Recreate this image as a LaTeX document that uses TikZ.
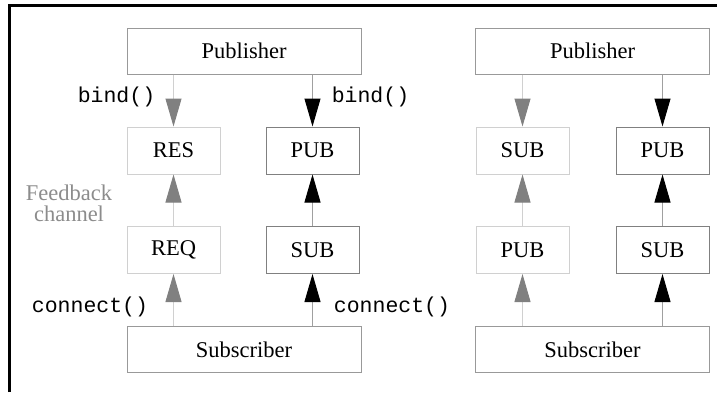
\documentclass[tikz,border=0pt]{standalone}
\usepackage{fontspec}
\setmainfont{Liberation Serif}
\setmonofont{Liberation Mono}
\usetikzlibrary{arrows.meta}
\definecolor{boxlight}{HTML}{D0D0D0}
\definecolor{boxdark}{HTML}{808080}
\definecolor{boxmid}{HTML}{999999}
\definecolor{linelight}{HTML}{D0D0D0}
\definecolor{linedark}{HTML}{A0A0A0}
\definecolor{tipgray}{HTML}{808080}
\definecolor{labelgray}{HTML}{8C8C8C}
\tikzset{
  box/.style={draw, rectangle, inner sep=0pt, line width=1pt, font=\fontsize{22.5}{26}\selectfont},
  wide/.style={box, draw=boxmid, minimum width=234pt, minimum height=46pt},
  lightbox/.style={box, draw=boxlight, minimum width=93pt, minimum height=47pt},
  darkbox/.style={box, draw=boxdark, minimum width=93pt, minimum height=47pt},
  lightarrow/.style={draw=linelight, line width=1pt, -{Triangle[width=16pt,length=28pt,color=tipgray]}},
  darkarrow/.style={draw=linedark, line width=1pt, -{Triangle[width=16pt,length=28pt,color=black]}},
  codelabel/.style={inner sep=0pt, font=\ttfamily\fontsize{21.5}{25}\selectfont},
}
\begin{document}
\begin{tikzpicture}[x=1pt,y=-1pt]
\useasboundingbox (0,0) rectangle (717,392);
% frame
\draw[line width=3pt] (9.5,392) -- (9.5,5.3) -- (717,5.3);
% left group
\node[wide] (pubL) at (244,51) {Publisher};
\node[lightbox] (res) at (173.5,150.5) {RES};
\node[darkbox] (pubA) at (312.5,150.5) {PUB};
\node[lightbox] (req) at (173.5,250) {REQ};
\node[darkbox] (subA) at (312.5,250) {SUB};
\node[wide] (subL) at (244,349.5) {Subscriber};
\draw[lightarrow] (pubL.south -| res.north) -- (res.north);
\draw[darkarrow] (pubL.south -| pubA.north) -- (pubA.north);
\draw[lightarrow] (req.north) -- (res.south);
\draw[darkarrow] (subA.north) -- (pubA.south);
\draw[lightarrow] (subL.north -| req.south) -- (req.south);
\draw[darkarrow] (subL.north -| subA.south) -- (subA.south);
\node[codelabel] (bindL) at (116.5,97) {bind()};
\node[codelabel] (bindR) at (370.5,97) {bind()};
\node[codelabel] (connL) at (90,307) {connect()};
\node[codelabel] (connR) at (392,307) {connect()};
\node[inner sep=0pt, text=labelgray, align=center, font=\fontsize{22.5}{21.5}\selectfont] (fb) at (69,203.5) {Feedback\\channel};
% right group
\node[wide] (pubR) at (592.5,51) {Publisher};
\node[lightbox] (subB) at (522.5,150.5) {SUB};
\node[darkbox] (pubB) at (662.5,150.5) {PUB};
\node[lightbox] (pubC) at (522.5,250) {PUB};
\node[darkbox] (subC) at (662.5,250) {SUB};
\node[wide] (subR) at (592.5,349.5) {Subscriber};
\draw[lightarrow] (pubR.south -| subB.north) -- (subB.north);
\draw[darkarrow] (pubR.south -| pubB.north) -- (pubB.north);
\draw[lightarrow] (pubC.north) -- (subB.south);
\draw[darkarrow] (subC.north) -- (pubB.south);
\draw[lightarrow] (subR.north -| pubC.south) -- (pubC.south);
\draw[darkarrow] (subR.north -| subC.south) -- (subC.south);
\end{tikzpicture}
\end{document}
